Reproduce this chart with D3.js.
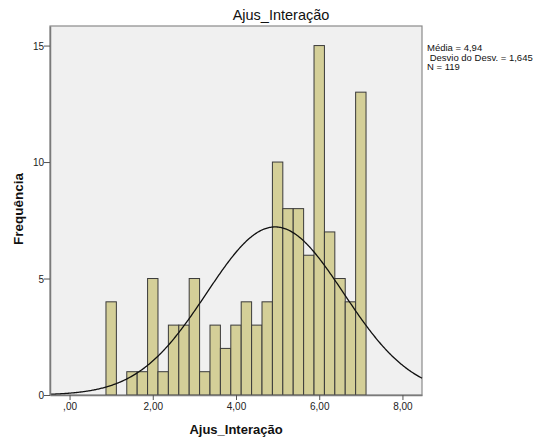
<!DOCTYPE html>
<html>
<head>
<meta charset="utf-8">
<script src="https://cdn.jsdelivr.net/npm/d3@7"></script>
<style>
  html, body { margin: 0; padding: 0; background: #fff; }
  svg { display: block; font-family: "Liberation Sans", Arial, sans-serif; }
</style>
</head>
<body>
<svg id="chart" width="540" height="441"></svg>
<script>
// Histogram bins (centre of each 0.25-wide bin) and their frequencies
const binCenters = [1.0, 1.5, 1.75, 2.0, 2.25, 2.5, 2.75, 3.0, 3.25, 3.5, 3.75, 4.0,
                    4.25, 4.5, 4.75, 5.0, 5.25, 5.5, 5.75, 6.0, 6.25, 6.5, 6.75, 7.0];
const counts     = [4, 1, 1, 5, 1, 3, 3, 5, 1, 3, 2, 3,
                    4, 3, 4, 10, 8, 8, 6, 15, 7, 5, 4, 13];
const binWidth = 0.25;

// Summary statistics used for the fitted normal curve
const mean = 4.94;
const sd = 1.645;
const n = 119;

const xTicks = [0, 2, 4, 6, 8];
const yTicks = [0, 5, 10, 15];
const legendLines = ["Média = 4,94", " Desvio do Desv. = 1,645", "N = 119"];

const titleText = "Ajus_Interação";
const xLabel = "Ajus_Interação";
const yLabel = "Frequência";

const svg = d3.select("#chart");
const plot = { left: 50, right: 422, top: 26, bottom: 395 };

const x = d3.scaleLinear().domain([-0.47, 8.47]).range([plot.left, plot.right]);
const y = d3.scaleLinear().domain([0, 15.84]).range([plot.bottom, plot.top]);

// Plot background
svg.append("rect")
  .attr("x", plot.left).attr("y", plot.top)
  .attr("width", plot.right - plot.left).attr("height", plot.bottom - plot.top)
  .attr("fill", "#f0f0f0")
  .attr("stroke", "#8a8a8a").attr("stroke-width", 1.2);

// Bars
const bins = binCenters.map((c, i) => ({ c, v: counts[i] }));
svg.append("g").selectAll("rect").data(bins).join("rect")
  .attr("x", d => x(d.c - binWidth / 2))
  .attr("y", d => y(d.v))
  .attr("width", d => x(d.c + binWidth / 2) - x(d.c - binWidth / 2))
  .attr("height", d => y(0) - y(d.v))
  .attr("fill", "#d4cf98")
  .attr("stroke", "#3a3a3a").attr("stroke-width", 1);

// Fitted normal curve scaled to counts
const curveX = d3.range(-0.47, 8.4701, 0.02);
const pdf = t => Math.exp(-0.5 * ((t - mean) / sd) ** 2) / (sd * Math.sqrt(2 * Math.PI));
svg.append("path")
  .datum(curveX)
  .attr("fill", "none").attr("stroke", "#111").attr("stroke-width", 1.3)
  .attr("d", d3.line().x(t => x(t)).y(t => y(n * binWidth * pdf(t))));

// Axes
const fmtComma = v => v === 0 ? ",00" : d3.format(".2f")(v).replace(".", ",");
const xAxis = svg.append("g")
  .attr("transform", `translate(0,${plot.bottom})`)
  .call(d3.axisBottom(x).tickValues(xTicks).tickFormat(fmtComma).tickSize(5).tickSizeOuter(0));
const yAxis = svg.append("g")
  .attr("transform", `translate(${plot.left},0)`)
  .call(d3.axisLeft(y).tickValues(yTicks).tickFormat(d3.format("d")).tickSize(6).tickSizeOuter(0));

[xAxis, yAxis].forEach(g => {
  g.select(".domain").attr("stroke", "#7a7a7a").attr("stroke-width", 1.5);
  g.selectAll(".tick line").attr("stroke", "#555");
  g.selectAll(".tick text").attr("fill", "#222")
    .style("font-family", "'Liberation Sans', Arial, sans-serif").style("font-size", "10px");
});
yAxis.selectAll(".tick text").attr("x", -6).attr("dy", "0.35em");
xAxis.selectAll(".tick text").attr("y", 8);

// Title and axis labels
svg.append("text")
  .attr("x", 281).attr("y", 20).attr("text-anchor", "middle")
  .style("font-size", "14.5px").attr("fill", "#111")
  .text(titleText);

svg.append("text")
  .attr("x", 236).attr("y", 434).attr("text-anchor", "middle")
  .style("font-size", "13px").style("font-weight", "bold").attr("fill", "#111")
  .text(xLabel);

svg.append("text")
  .attr("transform", "translate(23,209) rotate(-90)")
  .attr("text-anchor", "middle")
  .style("font-size", "13.5px").style("font-weight", "bold").attr("fill", "#111")
  .text(yLabel);

// Summary statistics
svg.append("g").selectAll("text").data(legendLines).join("text")
  .attr("x", 427).attr("y", (d, i) => 51 + i * 9.5)
  .style("font-size", "9.5px").attr("fill", "#111")
  .attr("xml:space", "preserve").style("white-space", "pre")
  .text(d => d);
</script>
</body>
</html>
